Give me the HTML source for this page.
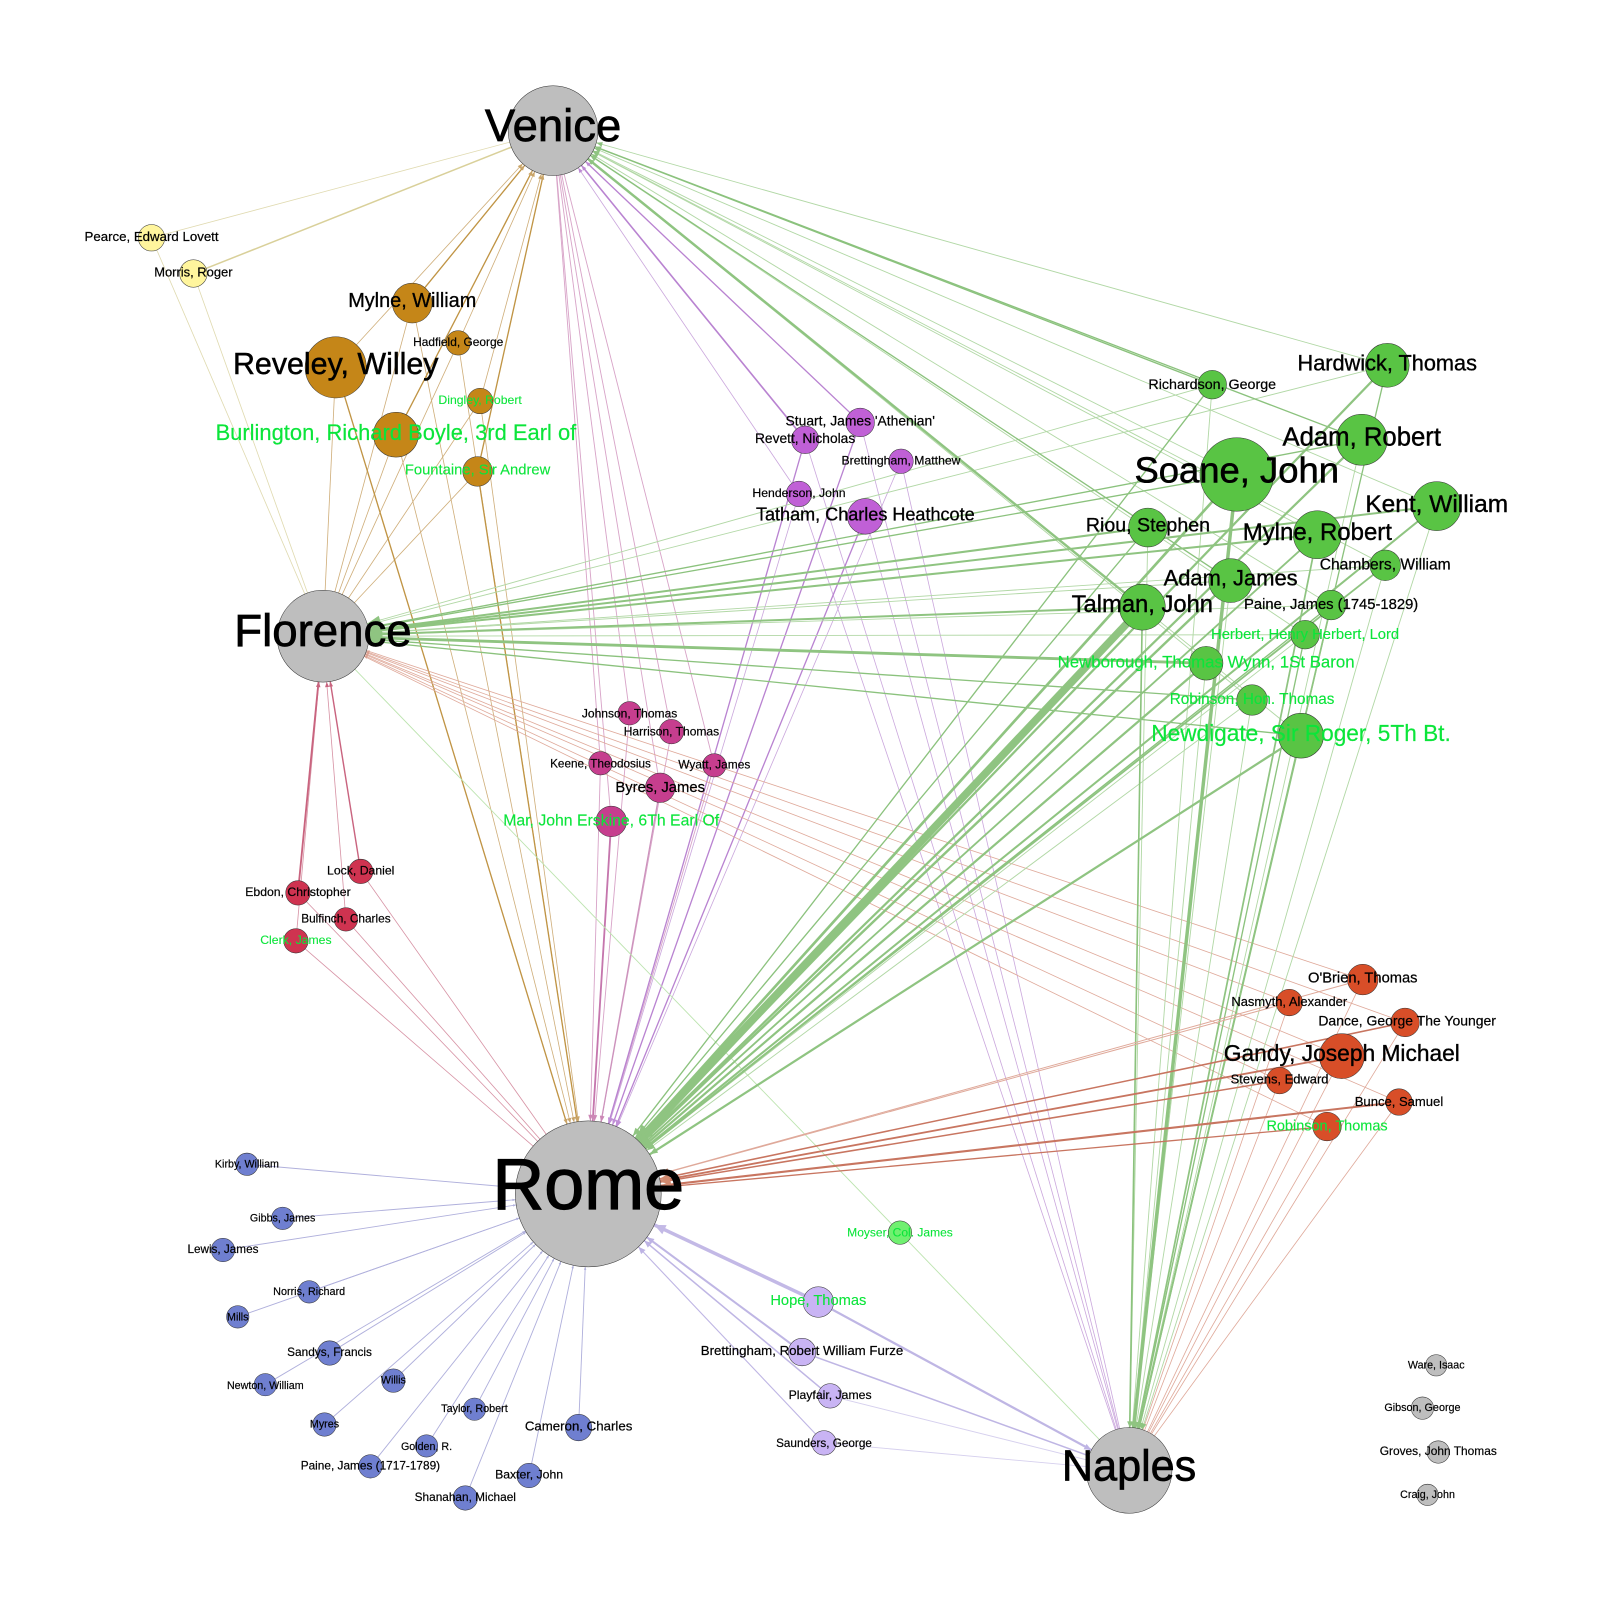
<!DOCTYPE html>
<html lang="en"><head><meta charset="utf-8"><title>Grand Tour network</title>
<style>
html,body{margin:0;padding:0;background:#fff}
svg{display:block}
text{font-family:"Liberation Sans",Arial,sans-serif;text-anchor:middle;fill:#000;stroke:#000;stroke-width:.016em}
text.g{fill:#0be53a;stroke:#0be53a;stroke-width:.008em}
marker path{stroke:none}
.n circle{stroke:#333;stroke-width:.5}
</style></head><body>
<svg xmlns="http://www.w3.org/2000/svg" width="1600" height="1600" viewBox="0 0 1568 1568">
<defs>
<marker id="bV" markerUnits="userSpaceOnUse" overflow="visible" orient="auto" markerWidth="1" markerHeight="1"><path d="M-44 0l-5-2v4z" fill="#c9a468"/></marker>
<marker id="bR" markerUnits="userSpaceOnUse" overflow="visible" orient="auto" markerWidth="1" markerHeight="1"><path d="M-71.5 0l-5-2v4z" fill="#c9a468"/></marker>
<marker id="pV" markerUnits="userSpaceOnUse" overflow="visible" orient="auto" markerWidth="1" markerHeight="1"><path d="M-44 0l-5-2v4z" fill="#bd8ad3"/></marker>
<marker id="pR" markerUnits="userSpaceOnUse" overflow="visible" orient="auto" markerWidth="1" markerHeight="1"><path d="M-71.5 0l-6-2.2v4.4z" fill="#c08fd6"/></marker>
<marker id="mR" markerUnits="userSpaceOnUse" overflow="visible" orient="auto" markerWidth="1" markerHeight="1"><path d="M-71.5 0l-6-2.2v4.4z" fill="#cc88b6"/></marker>
<marker id="gV" markerUnits="userSpaceOnUse" overflow="visible" orient="auto" markerWidth="1" markerHeight="1"><path d="M-44 0l-6-2.4v4.8z" fill="#8fc481"/></marker>
<marker id="gF" markerUnits="userSpaceOnUse" overflow="visible" orient="auto" markerWidth="1" markerHeight="1"><path d="M-45 0l-13-4.5v9z" fill="#8fc481"/></marker>
<marker id="gR" markerUnits="userSpaceOnUse" overflow="visible" orient="auto" markerWidth="1" markerHeight="1"><path d="M-71.5 0l-8-3v6z" fill="#8fc481"/></marker>
<marker id="gR2" markerUnits="userSpaceOnUse" overflow="visible" orient="auto" markerWidth="1" markerHeight="1"><path d="M-71.5 0l-14-7v14z" fill="#8fc481"/></marker>
<marker id="gN" markerUnits="userSpaceOnUse" overflow="visible" orient="auto" markerWidth="1" markerHeight="1"><path d="M-42 0l-6-2.6v5.2z" fill="#8fc481"/></marker>
<marker id="rF" markerUnits="userSpaceOnUse" overflow="visible" orient="auto" markerWidth="1" markerHeight="1"><path d="M-45 0l-5-2v4z" fill="#c9647f"/></marker>
<marker id="nR" markerUnits="userSpaceOnUse" overflow="visible" orient="auto" markerWidth="1" markerHeight="1"><path d="M-71.5 0l-3-1.2v2.4z" fill="#b0b0dc"/></marker>
<marker id="oF" markerUnits="userSpaceOnUse" overflow="visible" orient="auto" markerWidth="1" markerHeight="1"><path d="M-45 0l-3-1.2v2.4z" fill="#dca090"/></marker>
<marker id="oR" markerUnits="userSpaceOnUse" overflow="visible" orient="auto" markerWidth="1" markerHeight="1"><path d="M-71.5 0l-10-3.5v7z" fill="#d08a70"/></marker>
<marker id="lR" markerUnits="userSpaceOnUse" overflow="visible" orient="auto" markerWidth="1" markerHeight="1"><path d="M-71.5 0l-7-3v6z" fill="#bdb3e4"/></marker>
<marker id="lR2" markerUnits="userSpaceOnUse" overflow="visible" orient="auto" markerWidth="1" markerHeight="1"><path d="M-71.5 0l-11-5v10z" fill="#c3b9e6"/></marker>
<marker id="lN" markerUnits="userSpaceOnUse" overflow="visible" orient="auto" markerWidth="1" markerHeight="1"><path d="M-42 0l-7-3v6z" fill="#bdb3e4"/></marker>
</defs>

<!-- yellow -->
<g stroke="#e0dab0" stroke-width=".8">
<path d="M148.5 233L542 128"/>
<path stroke="#d9d09a" stroke-width="1.5" d="M189.5 268L542 128"/>
<path d="M148.5 233L316.5 623.5"/>
<path d="M189.5 268L316.5 623.5"/>
</g>

<!-- brown -->
<g stroke="#cfae7a" stroke-width=".8">
<path marker-end="url(#bV)" d="M329 360L542 128"/>
<path marker-end="url(#bV)" d="M449 336L542 128"/>
<path marker-end="url(#bV)" d="M470.5 393L542 128"/>
<path d="M404 297L316.5 623.5"/>
<path d="M329 360L316.5 623.5"/>
<path d="M449 336L316.5 623.5"/>
<path d="M470.5 393L316.5 623.5"/>
<path d="M388 426L316.5 623.5"/>
<path d="M468 462L316.5 623.5"/>
<path marker-end="url(#bR)" d="M404 297L576.5 1170"/>
<path marker-end="url(#bR)" d="M449 336L576.5 1170"/>
<path marker-end="url(#bR)" d="M470.5 393L576.5 1170"/>
<path marker-end="url(#bR)" d="M388 426L576.5 1170"/>
</g>
<g stroke="#c09444" stroke-width="1.3">
<path marker-end="url(#bV)" d="M404 297L542 128"/>
<path marker-end="url(#bV)" d="M388 426L542 128"/>
<path marker-end="url(#bV)" d="M468 462L542 128"/>
<path marker-end="url(#bR)" d="M329 360L576.5 1170"/>
<path marker-end="url(#bR)" d="M468 462L576.5 1170"/>
</g>

<!-- magenta -->
<g stroke="#d8a4c8" stroke-width=".9">
<path d="M617 699L542 128"/>
<path d="M658 717L542 128"/>
<path d="M588.5 748L542 128"/>
<path d="M700 750L542 128"/>
<path d="M647 772L542 128"/>
<path d="M599 805L542 128"/>
<path marker-end="url(#mR)" d="M617 699L576.5 1170"/>
<path marker-end="url(#mR)" d="M658 717L576.5 1170"/>
<path marker-end="url(#mR)" d="M588.5 748L576.5 1170"/>
<path marker-end="url(#mR)" d="M700 750L576.5 1170"/>
<path marker-end="url(#mR)" stroke="#cc92bc" stroke-width="1.2" d="M647 772L576.5 1170"/>
<path marker-end="url(#mR)" stroke="#c576ad" stroke-width="1.8" d="M599 805L576.5 1170"/>
</g>

<!-- purple -->
<g stroke="#cba8dd" stroke-width=".8">
<path marker-end="url(#pV)" d="M783 484L542 128"/>
<path marker-end="url(#pR)" d="M783 484L576.5 1170"/>
<path marker-end="url(#pR)" d="M883 452L576.5 1170"/>
<path d="M843 414L1106.5 1441"/>
<path d="M789 431L1106.5 1441"/>
<path d="M883 452L1106.5 1441"/>
<path d="M783 484L1106.5 1441"/>
<path d="M848 506L1106.5 1441"/>
</g>
<g stroke="#b983d1" stroke-width="1.3">
<path marker-end="url(#pV)" d="M843 414L542 128"/>
<path marker-end="url(#pV)" stroke-width="1.6" d="M789 431L542 128"/>
<path marker-end="url(#pR)" d="M789 431L576.5 1170"/>
<path marker-end="url(#pR)" d="M843 414L576.5 1170"/>
<path marker-end="url(#pR)" d="M848 506L576.5 1170"/>
</g>

<!-- red -->
<g stroke="#d793a5" stroke-width=".8">
<path marker-end="url(#rF)" d="M339 901L316.5 623.5"/>
<path marker-end="url(#rF)" d="M290 922L316.5 623.5"/>
<path d="M353.5 854L576.5 1170"/>
<path d="M292 875L576.5 1170"/>
<path d="M339 901L576.5 1170"/>
<path d="M290 922L576.5 1170"/>
<path marker-end="url(#rF)" stroke="#c9647f" stroke-width="1.8" d="M292 875L316.5 623.5"/>
<path marker-end="url(#rF)" stroke="#c9647f" stroke-width="1.4" d="M353.5 854L316.5 623.5"/>
</g>

<!-- moyser -->
<g stroke="#bde4b0" stroke-width=".9">
<path d="M882 1208L316.5 623.5"/>
<path d="M882 1208L1106.5 1441"/>
</g>

<!-- orange to Florence and Naples -->
<g stroke="#dfa99a" stroke-width=".8">
<path marker-end="url(#oF)" d="M1335.5 960L316.5 623.5"/>
<path marker-end="url(#oF)" d="M1263.5 982.5L316.5 623.5"/>
<path marker-end="url(#oF)" d="M1377 1002L316.5 623.5"/>
<path marker-end="url(#oF)" d="M1315 1035L316.5 623.5"/>
<path marker-end="url(#oF)" d="M1254 1059L316.5 623.5"/>
<path marker-end="url(#oF)" d="M1371 1080L316.5 623.5"/>
<path marker-end="url(#oF)" d="M1300.5 1104L316.5 623.5"/>
<path d="M1335.5 960L1106.5 1441"/>
<path d="M1263.5 982.5L1106.5 1441"/>
<path d="M1377 1002L1106.5 1441"/>
<path d="M1315 1035L1106.5 1441"/>
<path d="M1254 1059L1106.5 1441"/>
<path d="M1371 1080L1106.5 1441"/>
<path d="M1300.5 1104L1106.5 1441"/>
</g>

<!-- green thin -->
<g stroke="#b2d8a6" stroke-width=".9">
<path marker-end="url(#gF)" d="M1188 377L316.5 623.5"/>
<path marker-end="url(#gF)" d="M1359.5 358L316.5 623.5"/>
<path marker-end="url(#gF)" d="M1206 569L316.5 623.5"/>
<path marker-end="url(#gF)" d="M1357.5 554L316.5 623.5"/>
<path marker-end="url(#gF)" d="M1304.5 593L316.5 623.5"/>
<path marker-end="url(#gF)" d="M1279 622L316.5 623.5"/>
<path marker-end="url(#gV)" d="M1359.5 358L542 128"/>
<path marker-end="url(#gV)" d="M1408 496L542 128"/>
<path marker-end="url(#gV)" d="M1291 524L542 128"/>
<path marker-end="url(#gV)" d="M1357.5 554L542 128"/>
<path marker-end="url(#gV)" d="M1304.5 593L542 128"/>
<path marker-end="url(#gV)" d="M1227 686L542 128"/>
<path marker-end="url(#gV)" d="M1275 721L542 128"/>
<path marker-end="url(#gV)" d="M1212 465L542 128"/>
<path marker-end="url(#gV)" d="M1279 622L542 128"/>
<path marker-end="url(#gR)" d="M1227 686L576.5 1170"/>
<path marker-end="url(#gR)" d="M1279 622L576.5 1170"/>
<path marker-end="url(#gN)" d="M1188 377L1106.5 1441"/>
<path marker-end="url(#gN)" d="M1125 517L1106.5 1441"/>
<path marker-end="url(#gN)" d="M1334.5 431L1106.5 1441"/>
<path marker-end="url(#gN)" d="M1408 496L1106.5 1441"/>
<path marker-end="url(#gN)" d="M1206 569L1106.5 1441"/>
<path marker-end="url(#gN)" d="M1357.5 554L1106.5 1441"/>
<path marker-end="url(#gN)" d="M1182 650L1106.5 1441"/>
<path marker-end="url(#gN)" d="M1227 686L1106.5 1441"/>
</g>

<!-- green medium -->
<g stroke="#8bc27d" stroke-width="1.3">
<path marker-end="url(#gF)" d="M1334.5 431L316.5 623.5"/>
<path marker-end="url(#gF)" d="M1212 465L316.5 623.5"/>
<path marker-end="url(#gF)" d="M1227 686L316.5 623.5"/>
<path marker-end="url(#gF)" d="M1275 721L316.5 623.5"/>
<path marker-end="url(#gV)" d="M1188 377L542 128"/>
<path marker-end="url(#gV)" d="M1334.5 431L542 128"/>
<path marker-end="url(#gV)" d="M1206 569L542 128"/>
<path marker-end="url(#gR)" d="M1188 377L576.5 1170"/>
<path marker-end="url(#gR)" d="M1125 517L576.5 1170"/>
<path marker-end="url(#gR)" d="M1304.5 593L576.5 1170"/>
<path marker-end="url(#gN)" stroke-width="1.6" d="M1119.5 595L1106.5 1441"/>
<path marker-end="url(#gN)" d="M1359.5 358L1106.5 1441"/>
<path marker-end="url(#gN)" d="M1279 622L1106.5 1441"/>
</g>

<!-- green thick -->
<g stroke="#8fc481" stroke-width="2">
<path marker-end="url(#gF)" d="M1408 496L316.5 623.5"/>
<path marker-end="url(#gF)" d="M1125 517L316.5 623.5"/>
<path marker-end="url(#gF)" d="M1291 524L316.5 623.5"/>
<path marker-end="url(#gF)" d="M1119.5 595L316.5 623.5"/>
<path marker-end="url(#gF)" stroke-width="2.8" d="M1182 650L316.5 623.5"/>
<path marker-end="url(#gV)" stroke-width="2.4" d="M1119.5 595L542 128"/>
<path marker-end="url(#gR2)" stroke-width="7.5" d="M1119.5 595L576.5 1170"/>
<path marker-end="url(#gR2)" stroke-width="2.6" d="M1212 465L576.5 1170"/>
<path marker-end="url(#gR)" stroke-width="2.4" d="M1206 569L576.5 1170"/>
<path marker-end="url(#gR)" stroke-width="2.2" d="M1359.5 358L576.5 1170"/>
<path marker-end="url(#gR)" stroke-width="2.2" d="M1334.5 431L576.5 1170"/>
<path marker-end="url(#gR)" d="M1408 496L576.5 1170"/>
<path marker-end="url(#gR)" stroke-width="1.8" d="M1291 524L576.5 1170"/>
<path marker-end="url(#gR)" stroke-width="1.8" d="M1357.5 554L576.5 1170"/>
<path marker-end="url(#gR)" stroke-width="2.2" d="M1182 650L576.5 1170"/>
<path marker-end="url(#gR)" stroke-width="2.2" d="M1275 721L576.5 1170"/>
<path marker-end="url(#gN)" stroke-width="3.4" d="M1212 465L1106.5 1441"/>
<path marker-end="url(#gN)" stroke-width="1.7" d="M1291 524L1106.5 1441"/>
<path marker-end="url(#gN)" stroke-width="1.7" d="M1304.5 593L1106.5 1441"/>
<path marker-end="url(#gN)" stroke-width="1.7" d="M1275 721L1106.5 1441"/>
</g>

<!-- orange to Rome -->
<g stroke="#c87560" stroke-width="1.5">
<path marker-end="url(#oR)" stroke="#dfa99a" stroke-width="1" d="M1335.5 960L576.5 1170"/>
<path marker-end="url(#oR)" stroke="#dfa99a" stroke-width="1" d="M1263.5 982.5L576.5 1170"/>
<path marker-end="url(#oR)" d="M1377 1002L576.5 1170"/>
<path marker-end="url(#oR)" stroke-width="1.8" d="M1315 1035L576.5 1170"/>
<path marker-end="url(#oR)" d="M1254 1059L576.5 1170"/>
<path marker-end="url(#oR)" stroke-width="2" d="M1371 1080L576.5 1170"/>
<path marker-end="url(#oR)" stroke-width="1.3" d="M1300.5 1104L576.5 1170"/>
</g>

<!-- blue -->
<g stroke="#b0b0dc" stroke-width=".9" marker-end="url(#nR)">
<path d="M242 1141L576.5 1170"/>
<path d="M277 1194L576.5 1170"/>
<path d="M218.5 1225L576.5 1170"/>
<path d="M303 1266L576.5 1170"/>
<path d="M233 1290.5L576.5 1170"/>
<path d="M323 1326L576.5 1170"/>
<path d="M260 1357L576.5 1170"/>
<path d="M385.5 1353L576.5 1170"/>
<path d="M318 1396L576.5 1170"/>
<path d="M465 1381L576.5 1170"/>
<path d="M418 1417L576.5 1170"/>
<path d="M363 1437L576.5 1170"/>
<path d="M567 1399L576.5 1170"/>
<path d="M518.5 1446L576.5 1170"/>
<path d="M456 1468L576.5 1170"/>
</g>

<!-- lavender -->
<g stroke="#bfb6e4" stroke-width="1.5">
<path marker-end="url(#lR2)" stroke="#c3b9e6" stroke-width="3.4" d="M802 1276L576.5 1170"/>
<path marker-end="url(#lR)" stroke-width="2" d="M786 1325L576.5 1170"/>
<path marker-end="url(#lR)" d="M813.5 1368L576.5 1170"/>
<path marker-end="url(#lR)" stroke-width="1.1" d="M807.5 1414L576.5 1170"/>
<path marker-end="url(#lN)" stroke-width="2.2" d="M802 1276L1106.5 1441"/>
<path stroke-width="1.5" d="M786 1325L1106.5 1441"/>
<path stroke="#d6d0ee" stroke-width=".9" d="M813.5 1368L1106.5 1441"/>
<path stroke="#d6d0ee" stroke-width=".9" d="M807.5 1414L1106.5 1441"/>
</g>

<!-- nodes -->
<g class="n">
<g fill="#bebebe">
<circle cx="542" cy="128" r="44"/><circle cx="316.5" cy="623.5" r="45"/><circle cx="576.5" cy="1170" r="71.5"/><circle cx="1106.5" cy="1441" r="42"/>
<circle cx="1407.5" cy="1338" r="10.5"/><circle cx="1394" cy="1380" r="11"/><circle cx="1409.5" cy="1423" r="11"/><circle cx="1399" cy="1465" r="10.5"/>
</g>
<g fill="#fff59d"><circle cx="148.5" cy="233" r="13"/><circle cx="189.5" cy="268" r="13.5"/></g>
<g fill="#c58618"><circle cx="404" cy="297" r="19.5"/><circle cx="329" cy="360" r="30"/><circle cx="449" cy="336" r="12"/><circle cx="470.5" cy="393" r="12.5"/><circle cx="388" cy="426" r="22"/><circle cx="468" cy="462" r="14.5"/></g>
<g fill="#c060d6"><circle cx="843" cy="414" r="14"/><circle cx="789" cy="431" r="13.5"/><circle cx="883" cy="452" r="12"/><circle cx="783" cy="484" r="12.5"/><circle cx="848" cy="506" r="17.5"/></g>
<g fill="#59c444"><circle cx="1188" cy="377" r="14"/><circle cx="1359.5" cy="358" r="21.5"/><circle cx="1334.5" cy="431" r="25"/><circle cx="1212" cy="465" r="36"/><circle cx="1408" cy="496" r="24"/><circle cx="1291" cy="524" r="23.5"/><circle cx="1125" cy="517" r="19"/><circle cx="1357.5" cy="554" r="15"/><circle cx="1206" cy="569" r="21.5"/><circle cx="1119.5" cy="595" r="22.5"/><circle cx="1304.5" cy="593" r="14.5"/><circle cx="1279" cy="622" r="14"/><circle cx="1182" cy="650" r="16.5"/><circle cx="1227" cy="686" r="15"/><circle cx="1275" cy="721" r="22"/></g>
<g fill="#c63e8e"><circle cx="617" cy="699" r="11.5"/><circle cx="658" cy="717" r="12"/><circle cx="588.5" cy="748" r="11.5"/><circle cx="700" cy="750" r="11.5"/><circle cx="647" cy="772" r="14.5"/><circle cx="599" cy="805" r="15"/></g>
<g fill="#cf3350"><circle cx="353.5" cy="854" r="12"/><circle cx="292" cy="875" r="12"/><circle cx="339" cy="901" r="11.5"/><circle cx="290" cy="922" r="12"/></g>
<g fill="#6f7fd0"><circle cx="242" cy="1141" r="11"/><circle cx="277" cy="1194" r="11"/><circle cx="218.5" cy="1225" r="11.5"/><circle cx="303" cy="1266" r="11"/><circle cx="233" cy="1290.5" r="11"/><circle cx="323" cy="1326" r="12"/><circle cx="260" cy="1357" r="11"/><circle cx="385.5" cy="1353" r="11.5"/><circle cx="318" cy="1396" r="11.5"/><circle cx="465" cy="1381" r="11"/><circle cx="418" cy="1417" r="11"/><circle cx="363" cy="1437" r="11.5"/><circle cx="567" cy="1399" r="13"/><circle cx="518.5" cy="1446" r="12"/><circle cx="456" cy="1468" r="12"/></g>
<g fill="#d84e28"><circle cx="1335.5" cy="960" r="15"/><circle cx="1263.5" cy="982.5" r="13"/><circle cx="1377" cy="1002" r="14"/><circle cx="1315" cy="1035" r="22"/><circle cx="1254" cy="1059" r="13"/><circle cx="1371" cy="1080" r="13"/><circle cx="1300.5" cy="1104" r="14"/></g>
<g fill="#c9b4f4"><circle cx="802" cy="1276" r="15"/><circle cx="786" cy="1325" r="13.5"/><circle cx="813.5" cy="1368" r="12"/><circle cx="807.5" cy="1414" r="12"/></g>
<circle cx="882" cy="1208" r="11.5" fill="#70f070"/>
</g>

<!-- labels -->
<g>
<text x="542" y="138" font-size="44.5">Venice</text>
<text x="316.5" y="633" font-size="44.7">Florence</text>
<text x="576.5" y="1185" font-size="70.5">Rome</text>
<text x="1106.5" y="1451" font-size="42.3">Naples</text>

<text x="148.5" y="236" font-size="13">Pearce, Edward Lovett</text>
<text x="189.5" y="271" font-size="12.7">Morris, Roger</text>

<text x="404" y="301" font-size="19.5">Mylne, William</text>
<text x="329" y="366.5" font-size="29.8">Reveley, Willey</text>
<text x="449" y="339" font-size="11.7">Hadfield, George</text>
<text class="g" x="470.5" y="396" font-size="12">Dingley, Robert</text>
<text class="g" x="388" y="431" font-size="21.5">Burlington, Richard Boyle, 3rd Earl of</text>
<text class="g" x="468" y="465" font-size="14.5">Fountaine, Sir Andrew</text>

<text x="843" y="417" font-size="13.6">Stuart, James 'Athenian'</text>
<text x="789" y="434" font-size="13.5">Revett, Nicholas</text>
<text x="883" y="455" font-size="12">Brettingham, Matthew</text>
<text x="783" y="487" font-size="12">Henderson, John</text>
<text x="848" y="510" font-size="17.7">Tatham, Charles Heathcote</text>

<text x="1188" y="381" font-size="14">Richardson, George</text>
<text x="1359.5" y="363" font-size="21.3">Hardwick, Thomas</text>
<text x="1334.5" y="436.5" font-size="25.2">Adam, Robert</text>
<text x="1212" y="473" font-size="35.7">Soane, John</text>
<text x="1408" y="502" font-size="24">Kent, William</text>
<text x="1291" y="529" font-size="23.5">Mylne, Robert</text>
<text x="1125" y="521" font-size="19.2">Riou, Stephen</text>
<text x="1357.5" y="558" font-size="15.3">Chambers, William</text>
<text x="1206" y="574" font-size="21.5">Adam, James</text>
<text x="1119.5" y="600" font-size="23.3">Talman, John</text>
<text x="1304.5" y="597" font-size="14.5">Paine, James (1745-1829)</text>
<text class="g" x="1279" y="626" font-size="14.5">Herbert, Henry Herbert, Lord</text>
<text class="g" x="1182" y="654" font-size="16.5">Newborough, Thomas Wynn, 1St Baron</text>
<text class="g" x="1227" y="690" font-size="15">Robinson, Hon. Thomas</text>
<text class="g" x="1275" y="726" font-size="22.2">Newdigate, Sir Roger, 5Th Bt.</text>

<text x="617" y="703" font-size="11.8">Johnson, Thomas</text>
<text x="658" y="721" font-size="11.8">Harrison, Thomas</text>
<text x="588.5" y="752" font-size="11.5">Keene, Theodosius</text>
<text x="700" y="753" font-size="11.7">Wyatt, James</text>
<text x="647" y="776" font-size="14.5">Byres, James</text>
<text class="g" x="599" y="809" font-size="15.5">Mar, John Erskine, 6Th Earl Of</text>

<text x="353.5" y="857" font-size="12">Lock, Daniel</text>
<text x="292" y="878" font-size="12">Ebdon, Christopher</text>
<text x="339" y="904" font-size="11.6">Bulfinch, Charles</text>
<text class="g" x="290" y="925" font-size="12">Clerk, James</text>

<text x="242" y="1144" font-size="10.5">Kirby, William</text>
<text x="277" y="1197" font-size="10.5">Gibbs, James</text>
<text x="218.5" y="1228" font-size="11.5">Lewis, James</text>
<text x="303" y="1269" font-size="10.6">Norris, Richard</text>
<text x="233" y="1294" font-size="10.5">Mills</text>
<text x="323" y="1329" font-size="11.6">Sandys, Francis</text>
<text x="260" y="1361" font-size="10.5">Newton, William</text>
<text x="385.5" y="1356" font-size="10.5">Willis</text>
<text x="318" y="1399" font-size="10.5">Myres</text>
<text x="465" y="1384" font-size="10.6">Taylor, Robert</text>
<text x="418" y="1421" font-size="10.5">Golden, R.</text>
<text x="363" y="1440" font-size="11.6">Paine, James (1717-1789)</text>
<text x="567" y="1402" font-size="13">Cameron, Charles</text>
<text x="518.5" y="1449" font-size="12">Baxter, John</text>
<text x="456" y="1471" font-size="11.6">Shanahan, Michael</text>

<text x="1335.5" y="963" font-size="14.4">O'Brien, Thomas</text>
<text x="1263.5" y="986" font-size="12.7">Nasmyth, Alexander</text>
<text x="1379" y="1005" font-size="13.7">Dance, George The Younger</text>
<text x="1315" y="1040" font-size="22.3">Gandy, Joseph Michael</text>
<text x="1254" y="1062" font-size="12.7">Stevens, Edward</text>
<text x="1371" y="1084" font-size="12.8">Bunce, Samuel</text>
<text class="g" x="1300.5" y="1108" font-size="14.2">Robinson, Thomas</text>

<text class="g" x="802" y="1279" font-size="14.4">Hope, Thomas</text>
<text x="786" y="1328" font-size="13">Brettingham, Robert William Furze</text>
<text x="813.5" y="1371" font-size="12">Playfair, James</text>
<text x="807.5" y="1418" font-size="11.5">Saunders, George</text>
<text class="g" x="882" y="1212" font-size="11.8">Moyser, Col. James</text>

<text x="1407.5" y="1341" font-size="10.5">Ware, Isaac</text>
<text x="1394" y="1383" font-size="10.6">Gibson, George</text>
<text x="1409.5" y="1426" font-size="11.7">Groves, John Thomas</text>
<text x="1399" y="1468" font-size="10.5">Craig, John</text>
</g>
</svg>
</body></html>
